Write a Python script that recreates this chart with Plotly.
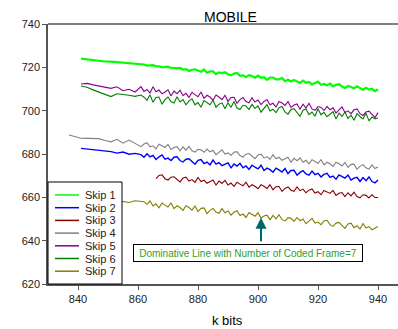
import plotly.graph_objects as go

# ---------------- data ----------------
X_MAIN = [841, 843, 845, 847, 849, 851, 853, 855, 857, 859,
          861, 862, 863, 864, 865, 866, 867, 868, 869, 870,
          871, 872, 873, 874, 875, 876, 877, 878, 879, 880,
          881, 882, 883, 884, 885, 886, 887, 888, 889, 890,
          891, 892, 893, 894, 895, 896, 897, 898, 899, 900,
          901, 902, 903, 904, 905, 906, 907, 908, 909, 910,
          911, 912, 913, 914, 915, 916, 917, 918, 919, 920,
          921, 922, 923, 924, 925, 926, 927, 928, 929, 930,
          931, 932, 933, 934, 935, 936, 937, 938, 939, 940]

X_SKIP4 = [837, 841, 843, 845, 847, 849, 851, 853, 855, 857, 859,
           861, 862, 863, 864, 865, 866, 867, 868, 869, 870,
           871, 872, 873, 874, 875, 876, 877, 878, 879, 880,
           881, 882, 883, 884, 885, 886, 887, 888, 889, 890,
           891, 892, 893, 894, 895, 896, 897, 898, 899, 900,
           901, 902, 903, 904, 905, 906, 907, 908, 909, 910,
           911, 912, 913, 914, 915, 916, 917, 918, 919, 920,
           921, 922, 923, 924, 925, 926, 927, 928, 929, 930,
           931, 932, 933, 934, 935, 936, 937, 938, 939, 940]

X_SKIP3 = [866, 867, 868, 869, 870, 871, 872, 873, 874, 875,
           876, 877, 878, 879, 880, 881, 882, 883, 884, 885,
           886, 887, 888, 889, 890, 891, 892, 893, 894, 895,
           896, 897, 898, 899, 900, 901, 902, 903, 904, 905,
           906, 907, 908, 909, 910, 911, 912, 913, 914, 915,
           916, 917, 918, 919, 920, 921, 922, 923, 924, 925,
           926, 927, 928, 929, 930, 931, 932, 933, 934, 935,
           936, 937, 938, 939, 940]

X_SKIP7 = [843, 845, 847, 849, 851, 853, 855, 857, 859,
           861, 862, 863, 864, 865, 866, 867, 868, 869, 870,
           871, 872, 873, 874, 875, 876, 877, 878, 879, 880,
           881, 882, 883, 884, 885, 886, 887, 888, 889, 890,
           891, 892, 893, 894, 895, 896, 897, 898, 899, 900,
           901, 902, 903, 904, 905, 906, 907, 908, 909, 910,
           911, 912, 913, 914, 915, 916, 917, 918, 919, 920,
           921, 922, 923, 924, 925, 926, 927, 928, 929, 930,
           931, 932, 933, 934, 935, 936, 937, 938, 939, 940]

SKIP1 = [724.0, 723.6, 723.2, 722.9, 722.7, 722.6, 722.4, 722.2, 721.9, 721.5,
         721.3, 721.3, 720.8, 721.0, 721.0, 720.5, 720.5, 720.0, 720.3, 720.3,
         719.7, 719.8, 719.5, 719.7, 719.0, 719.2, 718.3, 718.9, 719.1, 718.5,
         718.0, 719.0, 717.5, 718.1, 718.1, 716.9, 717.7, 717.3, 717.7, 716.8,
         716.3, 717.1, 717.4, 716.1, 716.3, 715.5, 716.4, 716.0, 715.2, 716.2,
         715.2, 715.5, 714.2, 715.3, 715.3, 714.4, 714.4, 715.1, 713.6, 714.3,
         713.5, 714.2, 713.6, 712.8, 713.9, 712.9, 713.3, 712.1, 712.8, 713.4,
         711.9, 712.3, 711.7, 712.5, 711.2, 711.9, 712.2, 711.1, 710.5, 711.4,
         710.9, 710.3, 711.2, 710.4, 709.7, 710.6, 709.7, 710.1, 709.0, 709.9]

SKIP2 = [682.6, 682.3, 682.0, 681.7, 681.4, 681.1, 680.4, 680.9, 679.9, 680.3,
         679.7, 678.5, 680.1, 678.7, 679.4, 677.5, 678.7, 679.6, 677.6, 678.1,
         677.0, 678.5, 678.7, 677.0, 676.3, 677.6, 677.8, 676.7, 675.3, 677.1,
         677.4, 675.6, 676.3, 675.0, 677.2, 675.3, 676.0, 674.6, 675.2, 675.9,
         673.6, 675.4, 674.4, 675.7, 673.6, 674.5, 672.9, 674.8, 673.9, 673.1,
         674.8, 672.4, 673.5, 672.8, 671.6, 673.5, 672.7, 671.7, 673.3, 671.0,
         672.4, 672.5, 670.2, 671.5, 672.3, 670.8, 670.2, 672.1, 670.5, 671.1,
         669.4, 670.6, 671.1, 669.2, 669.8, 668.4, 670.4, 669.8, 668.9, 670.3,
         668.0, 668.9, 669.2, 667.3, 669.1, 667.7, 669.4, 667.3, 666.7, 668.0]

SKIP3 = [668.6, 670.1, 670.4, 668.6, 668.0, 669.3, 669.5, 668.4, 667.1, 668.9,
         669.3, 667.5, 668.2, 666.9, 669.2, 667.3, 667.9, 666.5, 667.2, 668.0,
         665.7, 667.5, 666.4, 667.8, 665.7, 666.6, 665.1, 667.0, 666.1, 665.3,
         667.0, 664.7, 665.8, 665.1, 664.0, 665.8, 665.1, 664.1, 665.8, 663.5,
         664.9, 665.0, 662.7, 664.1, 664.8, 663.3, 662.8, 664.8, 663.1, 663.8,
         662.1, 663.3, 663.9, 662.0, 662.6, 661.2, 663.2, 662.6, 661.8, 663.2,
         660.9, 661.9, 662.2, 660.3, 662.1, 660.7, 662.4, 660.4, 659.8, 661.2,
         660.9, 659.7, 661.2, 659.9, 659.9]

SKIP4 = [688.8, 687.3, 687.2, 687.2, 687.1, 686.2, 685.6, 686.8, 685.0, 686.4, 684.7,
         683.4, 684.6, 685.2, 683.3, 683.8, 682.4, 684.5, 683.8, 683.0, 684.4,
         682.1, 683.0, 683.4, 681.5, 683.3, 681.8, 683.5, 681.5, 680.9, 682.2,
         681.9, 680.8, 682.3, 681.0, 681.7, 679.7, 681.0, 681.9, 680.0, 680.5,
         679.4, 680.8, 681.1, 679.3, 678.6, 679.9, 680.2, 679.1, 677.8, 679.5,
         679.9, 678.1, 678.8, 677.5, 679.7, 677.8, 678.5, 677.1, 677.7, 678.5,
         676.2, 678.0, 676.9, 678.2, 676.2, 677.1, 675.5, 677.4, 676.5, 675.7,
         677.4, 675.0, 676.2, 675.5, 674.3, 676.2, 675.5, 674.5, 676.1, 673.8,
         675.2, 675.3, 673.0, 674.3, 675.1, 673.6, 673.0, 675.0, 673.3, 674.0]

SKIP5 = [712.3, 712.6, 711.9, 711.3, 710.8, 710.3, 711.0, 709.2, 709.9, 708.6,
         711.1, 708.9, 709.8, 708.2, 711.0, 708.7, 709.5, 707.8, 708.6, 709.6,
         706.8, 709.0, 707.8, 709.4, 706.9, 708.0, 706.1, 708.5, 707.4, 706.4,
         708.6, 705.7, 707.1, 706.3, 704.8, 707.2, 706.3, 705.1, 707.1, 704.3,
         706.1, 706.2, 703.4, 705.1, 706.1, 704.2, 703.6, 706.0, 704.0, 704.9,
         702.8, 704.3, 705.0, 702.7, 703.4, 701.7, 704.2, 703.5, 702.4, 704.2,
         701.5, 702.6, 703.1, 700.7, 703.0, 701.2, 703.4, 700.8, 700.2, 701.9,
         701.5, 700.1, 702.0, 700.4, 701.3, 698.9, 700.4, 701.7, 699.2, 699.9,
         698.6, 700.4, 700.8, 698.6, 697.8, 699.4, 699.8, 698.4, 696.8, 699.1]

SKIP6 = [711.4, 710.8, 709.6, 708.5, 707.4, 706.5, 707.8, 707.6, 707.1, 706.6,
         707.2, 706.2, 704.8, 707.3, 703.9, 706.1, 706.3, 703.0, 705.1, 706.3,
         704.2, 703.5, 706.4, 704.0, 705.1, 702.7, 704.5, 705.5, 702.7, 703.7,
         701.6, 704.7, 703.9, 702.7, 704.9, 701.6, 703.0, 703.6, 700.9, 703.6,
         701.6, 704.2, 701.2, 700.5, 702.5, 702.2, 700.5, 702.9, 701.0, 702.2,
         699.3, 701.2, 702.8, 699.9, 700.7, 699.1, 701.4, 701.9, 699.4, 698.4,
         700.5, 700.9, 699.4, 697.4, 700.2, 700.8, 698.2, 699.4, 697.4, 700.9,
         698.1, 699.2, 697.2, 698.3, 699.5, 696.1, 698.8, 697.4, 699.4, 696.4,
         697.9, 695.6, 698.6, 697.3, 696.2, 698.8, 695.3, 697.1, 696.2, 696.6]

SKIP7 = [658.6, 658.4, 658.5, 658.2, 658.3, 657.9, 658.1, 657.6, 658.4,
         657.9, 658.0, 656.8, 658.3, 656.0, 657.0, 655.2, 657.4, 656.4, 655.5,
         657.4, 654.8, 656.1, 655.3, 654.0, 656.1, 655.3, 654.1, 656.0, 653.4,
         654.9, 655.1, 652.5, 654.0, 654.9, 653.2, 652.6, 654.8, 652.9, 653.7,
         651.8, 653.1, 653.8, 651.6, 652.3, 650.7, 653.0, 652.3, 651.3, 652.9,
         650.4, 651.4, 651.8, 649.7, 651.7, 650.1, 652.0, 649.7, 649.1, 650.6,
         650.3, 648.9, 650.7, 649.2, 650.0, 647.8, 649.2, 650.3, 648.1, 648.6,
         647.4, 649.1, 649.4, 647.4, 646.6, 648.1, 648.4, 647.2, 645.7, 647.7,
         648.1, 646.0, 646.9, 645.4, 647.9, 645.8, 646.5, 645.0, 645.7, 646.5]

SERIES_NAMES = ["Skip 1", "Skip 2", "Skip 3", "Skip 4", "Skip 5", "Skip 6", "Skip 7"]
X_TICKS = [840, 860, 880, 900, 920, 940]
Y_TICKS = [620, 640, 660, 680, 700, 720, 740]
TITLE = "MOBILE"
X_LABEL = "k bits"
NOTE = "Dominative Line with Number of Coded Frame=7"
ARROW_TARGET = (901, 650.6)

# ---------------- styling ----------------
FONT = "Liberation Sans, Arial, sans-serif"
COLORS = ["#00ff00", "#0000ff", "#8b0000", "#808080", "#8b008b", "#008000", "#808000"]
WIDTHS = [2.2, 1.4, 1.1, 1.1, 1.1, 1.1, 1.1]
AXIS_COLOR = "#555555"

xs = [X_MAIN, X_MAIN, X_SKIP3, X_SKIP4, X_MAIN, X_MAIN, X_SKIP7]
ys = [SKIP1, SKIP2, SKIP3, SKIP4, SKIP5, SKIP6, SKIP7]

fig = go.Figure()
order = [6, 2, 3, 1, 5, 4, 0]
for i in order:
    fig.add_trace(go.Scatter(x=xs[i], y=ys[i], mode="lines", name=SERIES_NAMES[i],
                             line=dict(color=COLORS[i], width=WIDTHS[i]),
                             showlegend=False))

W, H = 398, 329
L, R, T, B = 48, 0, 24, 45
pw, ph = W - L - R, H - T - B

def px_x(p):
    return (p - L) / pw

def px_y(p):
    return (H - B - p) / ph

shapes = []
annotations = []

# top frame line
shapes.append(dict(type="line", xref="paper", yref="paper", x0=0, x1=1, y0=1, y1=1,
                   line=dict(color=AXIS_COLOR, width=1.5), layer="above"))

# compact legend
shapes.append(dict(type="rect", xref="paper", yref="paper",
                   x0=px_x(48), x1=px_x(122), y0=px_y(284), y1=px_y(182),
                   line=dict(color="#000000", width=1), fillcolor="white", layer="above"))
for k, name in enumerate(SERIES_NAMES):
    yy = 195 + k * 12.7
    shapes.append(dict(type="line", xref="paper", yref="paper",
                       x0=px_x(55), x1=px_x(79), y0=px_y(yy), y1=px_y(yy),
                       line=dict(color=COLORS[k], width=1.5), layer="above"))
    annotations.append(dict(xref="paper", yref="paper", x=px_x(83), y=px_y(yy),
                            text=name, showarrow=False, xanchor="left", yanchor="middle",
                            font=dict(family=FONT, size=11, color="#222222")))

# note box
annotations.append(dict(xref="paper", yref="paper", x=px_x(248), y=px_y(253),
                        text=NOTE, showarrow=False, xanchor="center", yanchor="middle",
                        font=dict(family=FONT, size=10, color="#2ca02c"),
                        bordercolor="#000000", borderwidth=1, borderpad=2,
                        bgcolor="white", width=224, height=12))
# arrow
annotations.append(dict(x=ARROW_TARGET[0], y=ARROW_TARGET[1], xref="x", yref="y",
                        text="", showarrow=True, ax=0, ay=25,
                        arrowcolor="#006666", arrowwidth=2, arrowhead=2, arrowsize=1.1))
# title and x label
annotations.append(dict(xref="paper", yref="paper", x=px_x(230.5), y=px_y(16.5),
                        text=TITLE, showarrow=False, xanchor="center", yanchor="middle",
                        font=dict(family=FONT, size=14, color="#000000")))
annotations.append(dict(xref="paper", yref="paper", x=px_x(228), y=px_y(320),
                        text=X_LABEL, showarrow=False, xanchor="center", yanchor="middle",
                        font=dict(family=FONT, size=13, color="#000000")))

fig.update_layout(
    width=W, height=H,
    margin=dict(l=L, r=R, t=T, b=B, pad=0),
    paper_bgcolor="white", plot_bgcolor="white",
    showlegend=False,
    shapes=shapes, annotations=annotations,
    font=dict(family=FONT, size=11, color="#222222"),
    xaxis=dict(range=[830, 830 + pw / 3.0], tickmode="array", tickvals=X_TICKS,
               showgrid=False, zeroline=False, showline=True, linecolor=AXIS_COLOR,
               linewidth=1.5, ticks="outside", ticklen=4, tickwidth=1,
               tickcolor=AXIS_COLOR, tickfont=dict(family=FONT, size=11, color="#222222")),
    yaxis=dict(range=[620, 740], tickmode="array", tickvals=Y_TICKS,
               showgrid=False, zeroline=False, showline=True, linecolor=AXIS_COLOR,
               linewidth=1.5, ticks="outside", ticklen=4, tickwidth=1,
               tickcolor=AXIS_COLOR, tickfont=dict(family=FONT, size=11, color="#222222")),
)

fig.write_html("out.html")
